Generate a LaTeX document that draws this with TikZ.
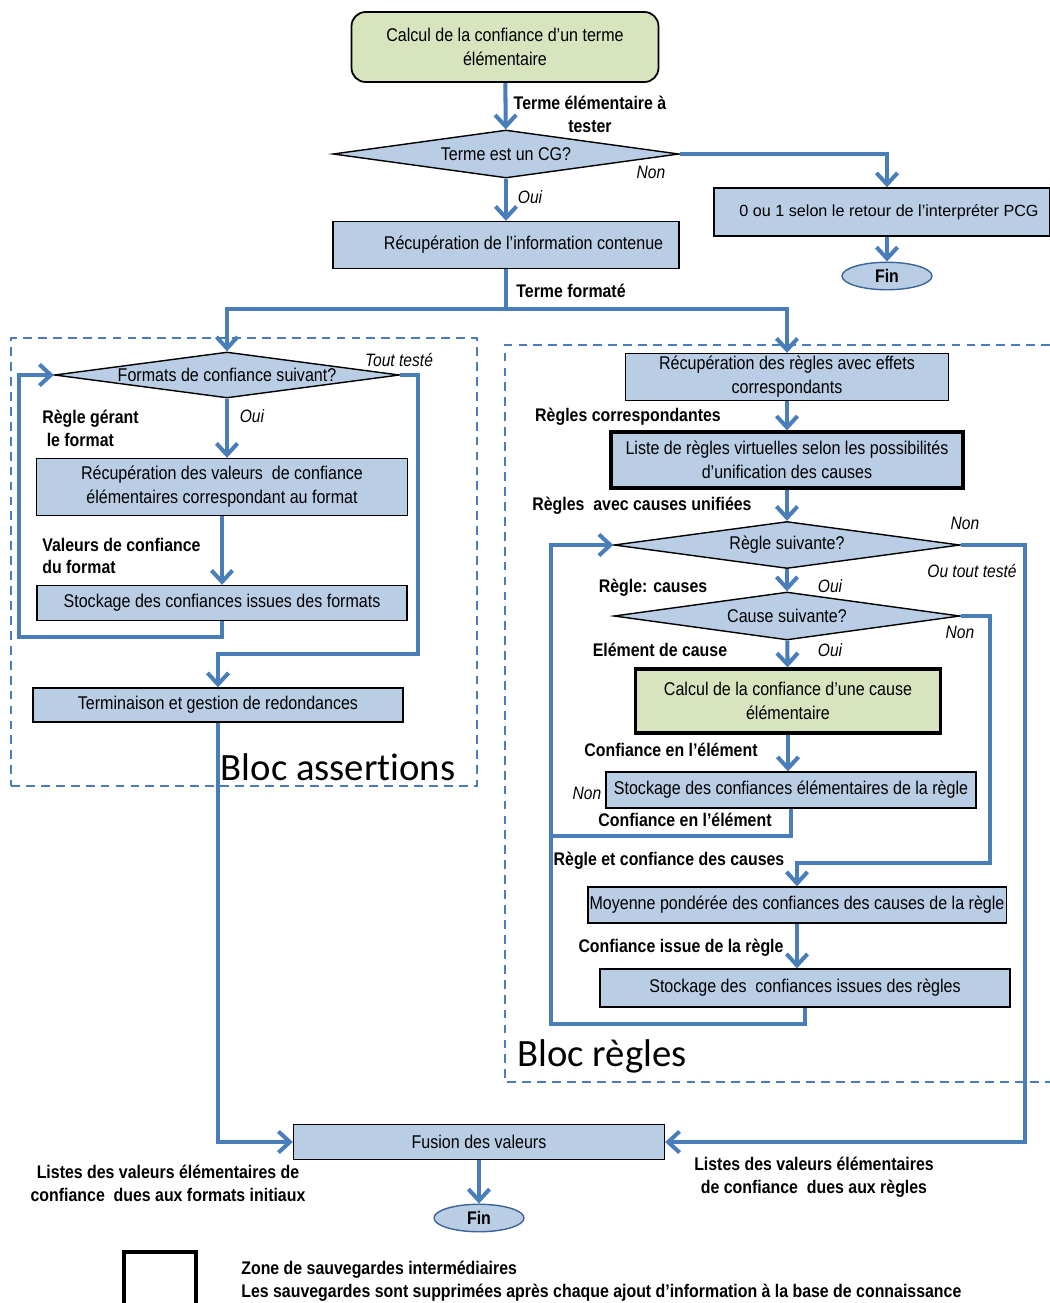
\documentclass[tikz,border=0pt]{standalone}
\usepackage{fontspec}
\setmainfont{Liberation Sans}[FakeStretch=0.87]
\newfontfamily\plainsans{Liberation Sans}
\newfontfamily\blocfont{Carlito}[Ligatures=NoCommon]
\usepackage{xcolor}
\usetikzlibrary{arrows.meta,shapes.geometric}
\definecolor{flow}{RGB}{74,126,187}
\definecolor{boxfill}{RGB}{185,205,229}
\definecolor{startfill}{RGB}{215,228,189}

\begin{document}
\begin{tikzpicture}[x=0.02cm,y=-0.02cm,
  box/.style={draw=black,fill=boxfill,line width=0.8pt,align=center,inner sep=1pt,font=\fontsize{10.5}{13.6}\selectfont},
  thickbox/.style={box,line width=1.8pt},
  decision/.style={diamond,draw=black,fill=boxfill,line width=0.8pt,inner sep=0pt,font=\fontsize{10.5}{12}\selectfont},
  finnode/.style={ellipse,draw=flow!80!black,fill=boxfill,line width=0.8pt,inner sep=0pt,minimum width=1.8cm,minimum height=0.55cm,font=\fontsize{10.4}{12}\selectfont\bfseries},
  lbl/.style={font=\fontsize{10.4}{13}\selectfont\bfseries,align=center,inner sep=0pt},
  ans/.style={font=\fontsize{10.2}{12}\selectfont\itshape,inner sep=0pt},
  bloc/.style={font=\blocfont\fontsize{22}{26}\selectfont,inner sep=0pt},
  blocframe/.style={draw=flow,dash pattern=on 5pt off 3.5pt,line width=1.1pt},
  arr/.style={-{Straight Barb[length=6.5pt,width=12pt]},draw=flow,line width=2.3pt},
  wire/.style={draw=flow,line width=2.3pt}
]
\useasboundingbox (0,0) rectangle (1050,1303);

% frames of the two blocks
\node[blocframe,minimum width=9.32cm,minimum height=8.96cm] (blocA) at (244,562) {};
\draw[blocframe] (1050,345) -| (505,1082) -- (1050,1082);

\node[box,fill=startfill,rounded corners=8pt,line width=1pt,minimum width=6.14cm,minimum height=1.4cm] (start) at (505,47) {Calcul de la confiance d’un terme\\élémentaire};
\node[decision,minimum width=6.92cm,minimum height=0.96cm] (isCG) at (506,154) {\makebox[0pt]{Terme est un CG?}};
\node[box,font=\plainsans\fontsize{9.2}{11}\selectfont,minimum width=6.72cm,minimum height=0.96cm] (pcg) at (882,212) {\hspace*{8pt}0 ou 1 selon le retour de l’interpréter PCG};
\node[finnode] (finA) at (887,276) {Fin};
\node[box,minimum width=6.92cm,minimum height=0.94cm] (info) at (506,245) {\hspace*{20pt}Récupération de l’information contenue};
\coordinate (split) at (506,309);

% bloc assertions
\node[decision,minimum width=6.9cm,minimum height=0.92cm] (nextfmt) at (227,375) {\makebox[0pt]{\raisebox{-3pt}{Formats de confiance suivant?}}};
\node[box,minimum width=7.42cm,minimum height=1.14cm] (vals) at (222,487) {Récupération des valeurs~ de confiance\\élémentaires correspondant au format};
\node[box,minimum width=7.4cm,minimum height=0.7cm] (storef) at (222,603) {Stockage des confiances issues des formats};
\node[box,minimum width=7.4cm,minimum height=0.68cm] (termin) at (218,705) {Terminaison et gestion de redondances};
\coordinate (loopF) at (19,637);
\coordinate (allF) at (418,654);

% bloc regles
\node[box,minimum width=6.46cm,minimum height=0.94cm] (rules) at (787,377) {Récupération des règles avec effets\\correspondants};
\node[thickbox,minimum width=7.04cm,minimum height=1.12cm] (virt) at (787,460) {Liste de règles virtuelles selon les possibilités\\d’unification des causes};
\node[decision,minimum width=6.92cm,minimum height=0.94cm] (nextrule) at (787,545) {\makebox[0pt]{Règle suivante?}};
\node[decision,minimum width=6.92cm,minimum height=0.96cm] (nextcause) at (787,616) {\makebox[0pt]{Cause suivante?}};
\node[thickbox,fill=startfill,minimum width=6.1cm,minimum height=1.28cm] (calccause) at (788,701) {Calcul de la confiance d’une cause\\élémentaire};
\node[box,minimum width=7.4cm,minimum height=0.72cm] (storee) at (791,790) {Stockage des confiances élémentaires de la règle};
\node[box,minimum width=8.32cm,minimum height=0.72cm] (mean) at (797,905) {Moyenne pondérée des confiances des causes de la règle};
\node[box,minimum width=8.2cm,minimum height=0.76cm] (storer) at (805,988) {Stockage des~ confiances issues des règles};
\coordinate (loopE) at (551,836);
\coordinate (loopR) at (551,1024);
\coordinate (noCause) at (990,863);
\coordinate (noRule) at (1025,1141);

\node[box,minimum width=7.42cm,minimum height=0.7cm] (fusion) at (479,1142) {Fusion des valeurs};
\node[finnode] (finB) at (479,1218) {Fin};

\draw[arr] (start) -- (isCG);
\draw[arr] (isCG.east) -| (finA |- pcg.north);
\draw[arr] (pcg.south -| finA) -- (finA);
\draw[arr] (isCG) -- (info);
\draw[wire] (info) -- (split);
\draw[arr] (split) -| (nextfmt.north);
\draw[arr] (split) -| (rules.north);

\draw[arr] (nextfmt.south) -- (nextfmt.south |- vals.north);
\draw[arr] (vals) -- (storef);
\draw[arr] (storef.south) |- (loopF) |- (nextfmt.west);
\draw[arr] (nextfmt.east) -| (allF) -| (termin.north);
\draw[arr] (termin.south) |- (fusion.west);

\draw[arr] (rules) -- (virt);
\draw[arr] (virt) -- (nextrule);
\draw[arr] (nextrule) -- (nextcause);
\draw[arr] (nextcause) -- (calccause);
\draw[arr] (calccause.south) -- (calccause.south |- storee.north);
\draw[wire] (storee.south) |- (loopE);
\draw[arr] (nextcause.east) -| (noCause) -| (mean.north);
\draw[arr] (mean.south) -- (mean.south |- storer.north);
\draw[arr] (storer.south) |- (loopR) |- (nextrule.west);
\draw[arr] (nextrule.east) -| (noRule) |- (fusion.east);
\draw[arr] (fusion) -- (finB);

% labels
\node[lbl] (lblTerm) at (590,114) {Terme élémentaire à\\tester};
\node[ans] (nonCG) at (651,172) {Non};
\node[ans] (ouiCG) at (530,197) {Oui};
\node[lbl] (lblFmt) at (571,291) {Terme formaté};
\node[ans] (allTested) at (399,360) {Tout testé};
\node[ans] (ouiFmt) at (252,416) {Oui};
\node[lbl,align=left,anchor=west] (lblRule) at (42,428) {Règle gérant\\\ le format};
\node[lbl,align=left,anchor=west] (lblVals) at (42,556) {Valeurs de confiance\\du format};
\node[bloc] (nameA) at (338,767) {Bloc assertions};

\node[lbl] (lblCorr) at (628,417) {Règles correspondantes};
\node[lbl] (lblUnif) at (642,506) {Règles~ avec causes unifiées};
\node[ans] (nonRule) at (965,523) {Non};
\node[ans] (allRule) at (972,571) {Ou tout testé};
\node[lbl] (lblCauses) at (653,588) {Règle: causes};
\node[ans] (ouiRule) at (830,586) {Oui};
\node[ans] (nonCause) at (960,632) {Non};
\node[lbl] (lblElem) at (660,650) {Elément de cause};
\node[ans] (ouiCause) at (830,650) {Oui};
\node[lbl] (lblConfA) at (671,750) {Confiance en l’élément};
\node[ans] (nonStore) at (587,793) {Non};
\node[lbl] (lblConfB) at (685,820) {Confiance en l’élément};
\node[lbl] (lblMean) at (669,861) {Règle et confiance des causes};
\node[lbl] (lblIssue) at (681,948) {Confiance issue de la règle};
\node[bloc] (nameR) at (602,1056) {Bloc règles};

\node[lbl] (lblListA) at (168,1183) {Listes des valeurs élémentaires de\\confiance~ dues aux formats initiaux};
\node[lbl] (lblListR) at (814,1177) {Listes des valeurs élémentaires\\de confiance~ dues aux règles};

% legend
\draw[line width=2.2pt] (124,1303) |- (196,1252) -- (196,1303);
\node[lbl,align=left,anchor=west] (legend) at (241,1281) {Zone de sauvegardes intermédiaires\\Les sauvegardes sont supprimées après chaque ajout d’information à la base de connaissance};
\end{tikzpicture}
\end{document}
